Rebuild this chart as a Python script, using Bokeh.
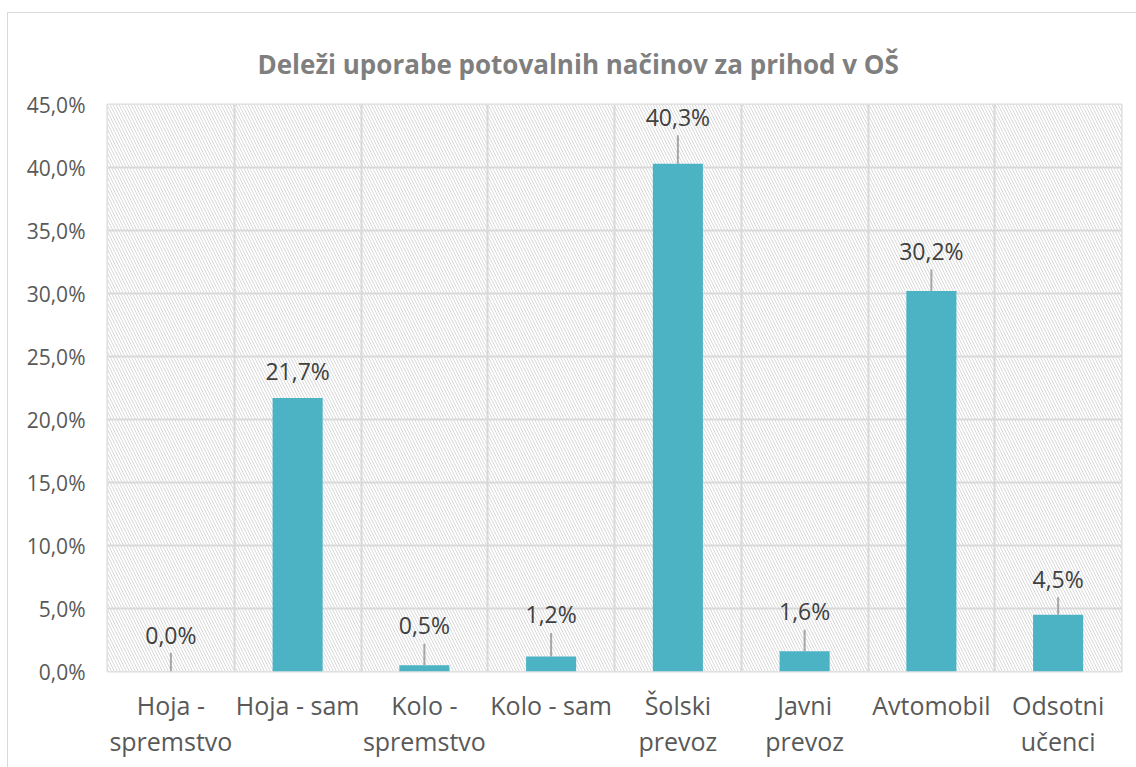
import numpy as np
from bokeh.plotting import figure
from bokeh.models import Range1d, FixedTicker, BoxAnnotation, ColumnDataSource
from bokeh.core.properties import value
from bokeh.embed import file_html
from bokeh.resources import INLINE

# ---- data ----
categories = ["Hoja -\nspremstvo", "Hoja - sam", "Kolo -\nspremstvo", "Kolo - sam",
              "Šolski\nprevoz", "Javni\nprevoz", "Avtomobil", "Odsotni\nučenci"]
shares = [0.0, 21.7, 0.5, 1.2, 40.3, 1.6, 30.2, 4.5]
share_labels = ["0,0%", "21,7%", "0,5%", "1,2%", "40,3%", "1,6%", "30,2%", "4,5%"]
y_ticks = [0, 5, 10, 15, 20, 25, 30, 35, 40, 45]
y_tick_labels = ["0,0%", "5,0%", "10,0%", "15,0%", "20,0%", "25,0%",
                 "30,0%", "35,0%", "40,0%", "45,0%"]
title_text = "Deleži uporabe potovalnih načinov za prihod v OŠ"

# label lift above bar top (screen px) -- style, not data
label_lift_px = [37, 27, 40, 42, 47, 40, 40, 36]

FONT = "Open Sans"
GRID = "#d9d9d9"
BAR = "#4bb3c4"

n = len(categories)
FW, FH = 1014, 567
YMAX = 45
ppu = FH / YMAX

x = np.arange(n) + 0.5
lab_y = np.array(shares) + np.array(label_lift_px) / ppu
lead_top = lab_y - 18.5 / ppu
has_lead = np.array(label_lift_px) > 30

p = figure(frame_width=FW, frame_height=FH, output_backend="svg", toolbar_location=None,
           x_range=Range1d(0, n), y_range=Range1d(0, YMAX),
           min_border_left=99, min_border_right=15, min_border_top=91, min_border_bottom=96)
p.styles = {"border-left": "1.5px solid #d9d9d9", "border-top": "1.5px solid #d9d9d9",
            "margin-left": "7px", "margin-top": "12px"}
p.background_fill_color = "white"
p.border_fill_color = "white"
p.outline_line_color = GRID
p.outline_line_width = 2

# hatched plot area
p.add_layout(BoxAnnotation(level="image", fill_color="white", fill_alpha=1,
                           line_color=None, hatch_pattern="\\", hatch_color="#d9d9d9",
                           hatch_weight=1, hatch_scale=6))

# grid
p.xgrid.ticker = FixedTicker(ticks=list(range(n + 1)))
p.ygrid.ticker = FixedTicker(ticks=y_ticks)
for g in (p.xgrid, p.ygrid):
    g.grid_line_color = GRID
    g.grid_line_width = 2

# axes
p.xaxis.ticker = FixedTicker(ticks=list(x))
p.xaxis.major_label_overrides = {float(xx): c for xx, c in zip(x, categories)}
p.yaxis.ticker = FixedTicker(ticks=y_ticks)
p.yaxis.major_label_overrides = {t: l for t, l in zip(y_ticks, y_tick_labels)}
for ax in (p.xaxis, p.yaxis):
    ax.axis_line_color = None
    ax.major_tick_line_color = None
    ax.minor_tick_line_color = None
    ax.major_label_text_font = FONT
    ax.major_label_text_color = "#595959"
p.xaxis.major_label_text_font_size = "25px"
p.xaxis.major_label_text_line_height = 1.06
p.xaxis.major_label_standoff = 10
p.yaxis.major_label_text_font_size = "21px"
p.yaxis.major_label_standoff = 16

# bars
src = ColumnDataSource(dict(x=x, top=shares, ly=lab_y, lt=lead_top, txt=share_labels))
p.vbar(x="x", top="top", width=0.395, source=src, fill_color=BAR, line_color=None)

lead_src = ColumnDataSource(dict(x=x[has_lead], y0=np.array(shares)[has_lead], y1=lead_top[has_lead]))
p.segment(x0="x", y0="y0", x1="x", y1="y1", source=lead_src, line_color="#a6a6a6", line_width=2)

p.text(x="x", y="ly", text="txt", source=src, text_align="center", text_baseline="middle",
       text_font=value(FONT), text_font_size="23px", text_color="#404040")

# title
p.title.text = title_text
p.title.align = "left"
p.title.offset = 150
p.title.standoff = 46
p.title.text_font = FONT
p.title.text_font_size = "26px"
p.title.text_font_style = "bold"
p.title.text_color = "#7f7f7f"

open("out.html", "w").write(file_html(p, INLINE))
